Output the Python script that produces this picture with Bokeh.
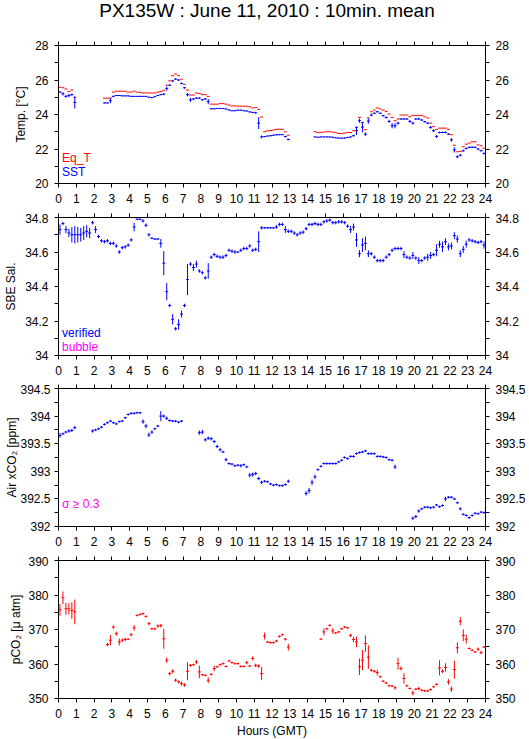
from bokeh.plotting import figure
from bokeh.layouts import column
from bokeh.models import Range1d, LinearAxis, FixedTicker, ColumnDataSource, Label, Div
from bokeh.embed import file_html
from bokeh.resources import INLINE

N = None
FONT = "Liberation Sans"

TITLE = "PX135W : June 11, 2010 : 10min. mean"

hour_ticks = list(range(0, 25))
hour_labels = [str(h) for h in hour_ticks]

temp_major = [20, 22, 24, 26, 28]
temp_minor = [21, 23, 25, 27]
temp_labels = ["20", "22", "24", "26", "28"]

sal_major = [34.0, 34.2, 34.4, 34.6, 34.8]
sal_minor = [34.1, 34.3, 34.5, 34.7]
sal_labels = ["34", "34.2", "34.4", "34.6", "34.8"]

air_major = [392.0, 392.5, 393.0, 393.5, 394.0, 394.5]
air_minor = [392.25, 392.75, 393.25, 393.75, 394.25]
air_labels = ["392", "392.5", "393", "393.5", "394", "394.5"]

pco2_major = [350, 360, 370, 380, 390]
pco2_minor = [355, 365, 375, 385]
pco2_labels = ["350", "360", "370", "380", "390"]

# 10-minute means, one row per hour (6 values each)
eq_t = [
    25.58, 25.55, 25.48, 25.33, 25.42, 25.0,
    N, N, N, N, N, N,
    N, N, N, 24.95, 24.95, 24.95,
    25.3, 25.35, 25.35, 25.35, 25.35, 25.3,
    25.3, 25.35, 25.3, 25.28, 25.25, 25.25,
    25.25, 25.25, 25.25, 25.3, 25.33, 25.4,
    25.7, 25.95, 26.25, 26.35, 26.25, 26.05,
    25.75, 25.42, 25.13, 25.13, 25.25, 25.22,
    25.15, 25.15, 25.05, 24.6, 24.6, 24.6,
    24.63, 24.63, 24.6, 24.55, 24.5, 24.5,
    24.48, 24.48, 24.48, 24.48, 24.45, 24.38,
    24.4, 24.3, 23.85, 23.0, 23.05, 23.07,
    23.1, 23.14, 23.15, 23.14, 23.0, 22.8,
    N, N, N, N, N, N,
    N, N, 23.0, 22.95, 22.97, 22.98,
    23.0, 23.0, 22.98, 22.95, 22.9, 22.9,
    22.92, 22.96, 22.96, 23.06, 23.25, 23.83,
    23.54, 23.12, 23.8, 24.16, 24.26, 24.38,
    24.32, 24.26, 24.18, 24.03, 23.83, 23.64,
    23.74, 23.97, 23.97, 23.97, 23.87, 23.95,
    23.95, 23.95, 23.95, 23.87, 23.8, 23.5,
    23.3, 23.14, 23.21, 23.21, 23.21, 23.14,
    22.83, 22.22, 21.84, 21.86, 22.13, 22.28,
    22.34, 22.42, 22.42, 22.24, 22.19, 22.05,
]

sst = [
    25.3, 25.2, 25.05, 25.1, 25.15, 24.7,
    N, N, N, N, N, N,
    N, N, N, 24.67, 24.67, 24.8,
    25.05, 25.1, 25.1, 25.08, 25.08, 25.08,
    25.05, 25.05, 25.05, 25.05, 25.05, 25.05,
    25.0, 24.98, 25.03, 25.1, 25.15, 25.18,
    25.5, 25.7, 25.95, 26.05, 26.0, 25.8,
    25.55, 25.15, 24.85, 24.9, 24.95, 24.95,
    24.85, 24.9, 24.75, 24.33, 24.33, 24.35,
    24.35, 24.35, 24.32, 24.26, 24.22, 24.22,
    24.25, 24.25, 24.22, 24.2, 24.15, 24.12,
    24.1, 23.5, 22.7, 22.72, 22.75, 22.77,
    22.8, 22.82, 22.83, 22.83, 22.72, 22.55,
    N, N, N, N, N, N,
    N, N, 22.7, 22.68, 22.7, 22.7,
    22.7, 22.7, 22.68, 22.65, 22.63, 22.63,
    22.63, 22.67, 22.7, 22.77, 23.06, 23.64,
    23.27, 22.86, 23.62, 23.97, 24.07, 24.16,
    24.07, 23.93, 23.83, 23.6, 23.35, 23.35,
    23.5, 23.74, 23.74, 23.74, 23.6, 23.5,
    23.74, 23.74, 23.68, 23.58, 23.5, 23.25,
    23.06, 22.73, 22.96, 22.96, 22.96, 22.86,
    22.53, 21.95, 21.55, 21.64, 21.9, 22.03,
    22.1, 22.1, 22.1, 22.0, 21.9, 21.74,
]

sst_sd = [
    .05, .1, .08, .1, .06, .35,
    0, 0, 0, 0, 0, 0,
    0, 0, 0, .03, .03, .15,
    .05, .03, .03, .03, .03, .03,
    .03, .03, .03, .03, .03, .03,
    .03, .03, .03, .03, .03, .06,
    .12, .05, .06, .05, .05, .05,
    .05, .1, .12, .05, .05, .05,
    .05, .05, .15, .03, .03, .03,
    .03, .03, .03, .03, .03, .03,
    .03, .03, .03, .03, .03, .03,
    .06, .35, .08, .03, .03, .03,
    .03, .03, .03, .03, .05, .05,
    0, 0, 0, 0, 0, 0,
    0, 0, .03, .03, .03, .03,
    .03, .03, .03, .03, .03, .03,
    .03, .03, .03, .05, .25, .12,
    .3, .1, .15, .08, .05, .05,
    .05, .05, .06, .08, .15, .15,
    .08, .05, .05, .05, .08, .08,
    .05, .05, .05, .05, .05, .08,
    .08, .08, .05, .05, .05, .05,
    .1, .15, .08, .06, .06, .05,
    .05, .05, .05, .05, .05, .06,
]

sal = [
    34.73, 34.765, 34.73, 34.71, 34.70, 34.70,
    34.70, 34.70, 34.71, 34.72, 34.71, 34.77,
    34.73, 34.69, 34.665, 34.66, 34.665, 34.65,
    34.65, 34.635, 34.60, 34.625, 34.63, 34.64,
    34.67, 34.745, 34.79, 34.79, 34.78, 34.755,
    34.70, 34.68, 34.675, 34.675, 34.65, 34.535,
    34.37, 34.29, 34.21, 34.155, 34.18, 34.24,
    34.29, 34.44, 34.53, 34.51, 34.53, 34.49,
    34.48, 34.45, 34.49, 34.57, 34.585, 34.575,
    34.57, 34.57, 34.58, 34.61, 34.605, 34.60,
    34.60, 34.61, 34.62, 34.62, 34.635, 34.61,
    34.615, 34.66, 34.74, 34.74, 34.74, 34.74,
    34.74, 34.745, 34.76, 34.76, 34.73, 34.72,
    34.72, 34.71, 34.70, 34.71, 34.715, 34.735,
    34.76, 34.76, 34.765, 34.76, 34.76, 34.775,
    34.78, 34.785, 34.77, 34.77, 34.775, 34.775,
    34.77, 34.75, 34.73, 34.745, 34.67, 34.59,
    34.64, 34.65, 34.59, 34.59, 34.57, 34.55,
    34.55, 34.55, 34.57, 34.585, 34.61, 34.62,
    34.62, 34.62, 34.585, 34.57, 34.565, 34.58,
    34.565, 34.55, 34.55, 34.565, 34.57, 34.58,
    34.585, 34.61, 34.645, 34.63, 34.66, 34.63,
    34.635, 34.695, 34.675, 34.59, 34.615, 34.645,
    34.67, 34.665, 34.66, 34.655, 34.66, 34.64,
]

sal_sd = [
    .03, .01, .02, .025, .045, .05,
    .045, .04, .04, .035, .03, .01,
    .02, .01, .01, .01, .01, .01,
    .01, .01, .01, .01, .01, .01,
    .01, .025, .005, .005, .01, .01,
    .01, .005, .005, .005, .025, .07,
    .05, .01, .03, .01, .03, .02,
    .01, .09, .01, .02, .02, .01,
    .01, .01, .045, .01, .01, .01,
    .01, .01, .01, .01, .01, .01,
    .005, .01, .01, .01, .01, .01,
    .01, .06, .01, .005, .005, .005,
    .005, .01, .01, .01, .02, .01,
    .01, .01, .01, .01, .01, .01,
    .01, .01, .01, .01, .01, .01,
    .01, .01, .01, .01, .01, .01,
    .01, .01, .02, .02, .04, .02,
    .04, .04, .02, .01, .01, .01,
    .01, .01, .01, .01, .01, .01,
    .01, .01, .02, .01, .01, .02,
    .01, .02, .01, .01, .02, .02,
    .01, .035, .02, .03, .02, .02,
    .02, .02, .02, .02, .02, .02,
    .01, .01, .01, .01, .01, .02,
]

air = [
    393.65, 393.68, 393.71, 393.73, 393.74, 393.79,
    N, N, N, N, N, 393.73,
    393.75, 393.77, 393.80, 393.85, 393.88, 393.91,
    393.88, 393.86, 393.90, 393.91, 393.97, 394.03,
    394.05, 394.05, 394.06, 394.06, 393.90, 393.82,
    393.66, 393.71, 393.77, 393.82, 394.00, 394.00,
    393.96, 393.92, 393.91, 393.91, 393.89, 393.91,
    N, N, N, N, N, 393.70,
    393.71, 393.57, 393.60, 393.59, 393.54, 393.45,
    393.39, 393.35, 393.21, 393.14, 393.13, 393.10,
    393.11, 393.10, 393.12, 393.08, 392.93, 392.94,
    392.96, 392.87, 392.80, 392.82, 392.81, 392.77,
    392.75, 392.76, 392.74, 392.74, 392.76, 392.82,
    N, N, N, N, N, 392.60,
    392.65, 392.80, 392.90, 393.03, 393.09, 393.14,
    393.14, 393.14, 393.14, 393.14, 393.17, 393.20,
    393.25, 393.23, 393.27, 393.27, 393.32, 393.34,
    393.35, 393.37, 393.32, 393.32, 393.32, 393.27,
    393.27, 393.26, 393.25, 393.21, 393.20, 393.08,
    N, N, N, N, N, 392.15,
    392.18, 392.28, 392.32, 392.35, 392.35, 392.34,
    392.35, 392.39, 392.36, 392.38, 392.50, 392.53,
    392.53, 392.50, 392.43, 392.32, 392.22, 392.20,
    392.16, 392.20, 392.24, 392.23, 392.26, 392.25,
]

air_sd = [
    .04, .02, .02, .03, .03, .03,
    0, 0, 0, 0, 0, .03,
    .02, .02, .02, .02, .02, .02,
    .02, .02, .02, .02, .02, .02,
    .02, .02, .02, .02, .04, .04,
    .04, .03, .02, .02, .09, .03,
    .03, .02, .02, .02, .02, .02,
    0, 0, 0, 0, 0, .04,
    .04, .03, .03, .03, .03, .03,
    .03, .02, .03, .02, .02, .02,
    .02, .03, .02, .02, .04, .04,
    .03, .03, .03, .02, .02, .02,
    .02, .02, .02, .02, .02, .03,
    0, 0, 0, 0, 0, .04,
    .05, .05, .04, .02, .02, .02,
    .02, .02, .02, .02, .02, .02,
    .02, .02, .02, .02, .02, .02,
    .02, .02, .02, .02, .02, .02,
    .02, .02, .02, .02, .02, .04,
    0, 0, 0, 0, 0, .03,
    .03, .03, .02, .02, .02, .02,
    .02, .02, .02, .02, .04, .02,
    .02, .02, .02, .03, .02, .02,
    .02, .02, .02, .02, .02, .02,
]

pco2 = [
    375.7, 379.2, 376.0, 376.0, 375.5, 375.1,
    N, N, N, N, N, N,
    N, N, N, N, 365.6, 366.9,
    370.7, 368.8, 366.4, 366.9, 367.1, 367.2,
    368.5, 370.5, 374.1, 374.4, 374.6, 373.8,
    371.7, 370.2, 370.2, 371.0, 371.1, 367.3,
    361.1, 357.2, 357.9, 355.3, 354.8, 354.3,
    353.9, 357.9, 359.6, 359.8, 360.6, 357.7,
    356.9, 356.7, 355.3, 357.0, 358.7, 359.2,
    359.8, 360.1, 359.3, 360.9, 360.4, 360.1,
    360.1, 359.3, 359.3, 360.4, 359.4, 361.6,
    359.6, 359.4, 357.2, 368.1, 366.4, 366.2,
    366.2, 366.7, 368.0, 368.5, 367.2, 364.9,
    N, N, N, N, N, N,
    N, N, N, N, 367.2, 369.3,
    370.2, 371.2, 369.6, 369.0, 369.3, 370.2,
    370.7, 370.5, 368.3, 367.1, 366.4, 359.2,
    361.1, 365.9, 362.0, 358.2, 357.9, 357.5,
    356.3, 355.0, 354.5, 353.7, 353.6, 353.1,
    360.1, 358.7, 355.8, 353.7, 352.9, 351.6,
    352.7, 352.9, 352.4, 352.2, 352.2, 352.6,
    353.4, 354.1, 358.9, 357.9, 359.0, 354.8,
    352.7, 358.4, 364.7, 372.4, 368.3, 367.2,
    364.5, 364.0, 363.5, 364.3, 363.3, 364.9,
]

pco2_sd = [
    1.7, 1.8, 1.7, 1.6, 2.4, 3.6,
    0, 0, 0, 0, 0, 0,
    0, 0, 0, 0, 0.5, 1.5,
    0.5, 0.6, 1.0, 0.5, 0.5, 0.3,
    0.5, 0.8, 0.3, 0.3, 0.3, 0.3,
    0.5, 0.3, 0.3, 0.5, 0.5, 2.9,
    0.8, 0.5, 0.6, 0.5, 0.4, 0.6,
    0.5, 2.6, 0.4, 0.3, 0.6, 1.8,
    0.3, 0.3, 0.8, 0.3, 0.8, 0.3,
    0.3, 0.3, 0.3, 0.3, 0.3, 0.3,
    0.3, 0.3, 0.3, 0.5, 0.3, 0.6,
    0.5, 0.5, 1.9, 1.0, 0.3, 0.3,
    0.3, 0.3, 0.3, 0.3, 0.4, 1.0,
    0, 0, 0, 0, 0, 0,
    0, 0, 0, 0, 0.2, 1.0,
    0.3, 0.3, 0.8, 0.3, 0.3, 0.3,
    0.3, 0.3, 0.5, 0.8, 1.5, 2.4,
    2.9, 2.4, 3.4, 0.4, 0.4, 0.8,
    0.3, 0.3, 0.3, 0.3, 0.3, 0.5,
    1.7, 0.6, 1.5, 0.3, 0.3, 0.7,
    0.3, 0.5, 0.3, 0.3, 0.3, 0.3,
    0.3, 0.3, 2.2, 0.5, 1.2, 0.8,
    0.8, 2.6, 1.6, 1.2, 1.7, 1.3,
    0.3, 0.3, 0.3, 0.5, 0.5, 0.3,
]

BIN = 1.0 / 6.0
times = [i * BIN + BIN / 2 for i in range(len(eq_t))]

RED = "#ff0000"
BLUE = "#0000ff"
MAGENTA = "#ff00ff"


def style_axis(ax):
    ax.axis_line_color = "black"
    ax.major_tick_line_color = "black"
    ax.minor_tick_line_color = "black"
    ax.major_tick_in = 0
    ax.minor_tick_in = 0
    ax.major_tick_out = 4
    ax.minor_tick_out = 4
    ax.major_label_text_font = FONT
    ax.major_label_text_font_size = "12px"
    ax.major_label_text_color = "black"
    ax.axis_label_text_font = FONT
    ax.axis_label_text_font_size = "12px"
    ax.axis_label_text_font_style = "normal"
    ax.axis_label_text_color = "black"


def make_fig(ylo, yhi, major, minor, labels, ylabel, ylab_standoff, top, bottom,
             xlabel=None, ytick_standoff=6):
    p = figure(frame_width=427, frame_height=138,
               x_range=Range1d(0, 24), y_range=Range1d(ylo, yhi),
               output_backend="svg", toolbar_location=None,
               x_axis_location=None, y_axis_location=None,
               min_border_left=58, min_border_right=43,
               min_border_top=top, min_border_bottom=bottom,
               background_fill_color="white", border_fill_color="white")
    p.outline_line_color = "black"
    p.grid.visible = False

    xt = FixedTicker(ticks=hour_ticks, minor_ticks=[])
    xb = LinearAxis(ticker=xt, major_label_overrides=dict(zip(hour_ticks, hour_labels)))
    style_axis(xb)
    xb.major_label_standoff = 6
    if xlabel:
        xb.axis_label = xlabel
        xb.axis_label_standoff = 3
    p.add_layout(xb, "below")

    xtop = LinearAxis(ticker=xt, major_label_overrides={h: "" for h in hour_ticks})
    style_axis(xtop)
    xtop.major_label_text_font_size = "0px"
    xtop.major_label_standoff = 0
    p.add_layout(xtop, "above")

    yt = FixedTicker(ticks=major, minor_ticks=minor)
    yl = LinearAxis(ticker=yt, major_label_overrides=dict(zip(major, labels)))
    style_axis(yl)
    yl.major_label_standoff = ytick_standoff
    yl.axis_label = ylabel
    yl.axis_label_standoff = ylab_standoff
    p.add_layout(yl, "left")

    yr = LinearAxis(ticker=yt, major_label_overrides=dict(zip(major, labels)))
    style_axis(yr)
    yr.major_label_standoff = 6
    p.add_layout(yr, "right")
    return p


def draw_marks(p, vals, sds, color, vertical=True):
    xs, ys, ss = [], [], []
    for t, v, s in zip(times, vals, sds):
        if v is None:
            continue
        xs.append(t)
        ys.append(v)
        ss.append(s)
    src = ColumnDataSource(dict(
        x=xs, y=ys,
        x0=[x - BIN / 2 for x in xs], x1=[x + BIN / 2 for x in xs],
        lo=[y - s for y, s in zip(ys, ss)], hi=[y + s for y, s in zip(ys, ss)],
    ))
    p.segment(x0="x0", y0="y", x1="x1", y1="y", source=src, line_color=color, line_width=1)
    if vertical:
        p.segment(x0="x", y0="lo", x1="x", y1="hi", source=src, line_color=color, line_width=1)


def add_text(p, x, y, text, color):
    p.add_layout(Label(x=x, y=y, text=text, text_color=color, text_font=FONT,
                       text_font_size="12px", text_baseline="middle", text_align="left"))


title_div = Div(text=TITLE, width=529, height=21, margin=(0, 0, 0, 0),
                styles={"font-family": FONT, "font-size": "19px", "line-height": "22px",
                        "text-align": "center", "text-indent": "5px", "color": "black",
                        "white-space": "nowrap", "overflow": "visible"})

# Panel 1: temperatures
p1 = make_fig(20, 28, temp_major, temp_minor, temp_labels, "Temp. [°C]", 4, 24, 30)
draw_marks(p1, eq_t, [0] * len(eq_t), RED, vertical=False)
draw_marks(p1, sst, sst_sd, BLUE)
add_text(p1, 0.2, 21.45, "Eq_T", RED)
add_text(p1, 0.2, 20.64, "SST", BLUE)

# Panel 2: salinity
p2 = make_fig(34, 34.8, sal_major, sal_minor, sal_labels, "SBE Sal.", 4, 4, 29)
draw_marks(p2, sal, sal_sd, BLUE)
add_text(p2, 0.2, 34.128, "verified", BLUE)
add_text(p2, 0.2, 34.052, "bubble", MAGENTA)

# Panel 3: air xCO2
p3 = make_fig(392, 394.5, air_major, air_minor, air_labels, "Air xCO₂ [ppm]", -2, 4, 30,
              ytick_standoff=4)
draw_marks(p3, air, air_sd, BLUE)
add_text(p3, 0.2, 392.4, "σ ≥ 0.3", MAGENTA)

# Panel 4: pCO2
p4 = make_fig(350, 390, pco2_major, pco2_minor, pco2_labels, "pCO₂ [μ atm]", 2, 4, 40,
              xlabel="Hours (GMT)")
draw_marks(p4, pco2, pco2_sd, RED)

layout = column(title_div, p1, p2, p3, p4)
open("out.html", "w").write(file_html(layout, INLINE))
